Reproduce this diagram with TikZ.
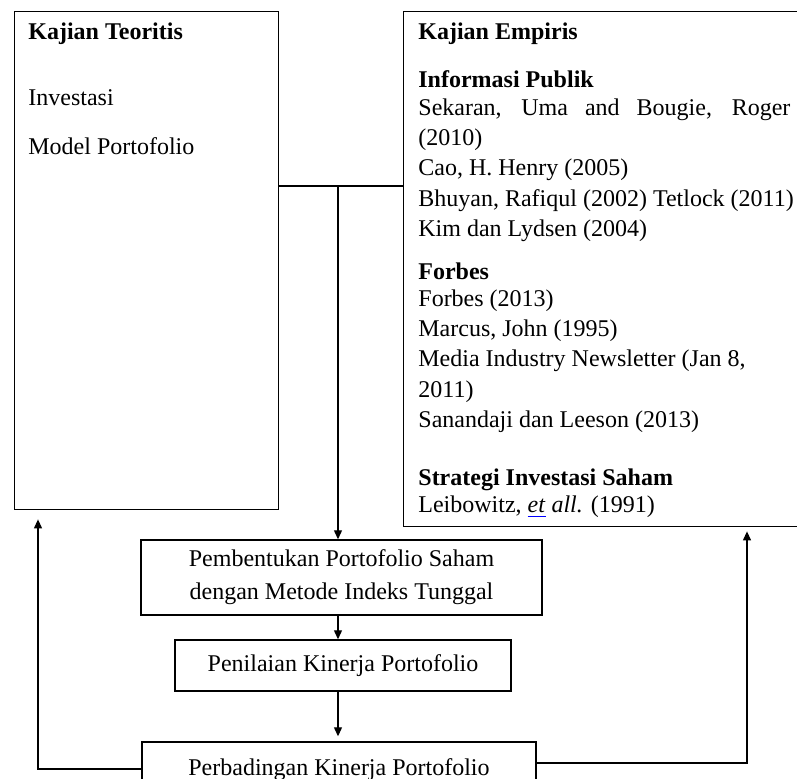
\documentclass[tikz,border=0pt]{standalone}
\usepackage{fontspec}
\setmainfont{Liberation Serif}
\usepackage{tikz}
\usetikzlibrary{arrows.meta,positioning,calc}
\tikzset{
	panel/.style={draw, line width=0.7pt, inner sep=0pt, anchor=north west},
	stepbox/.style={draw, line width=0.7pt, inner sep=0pt, align=center,
		font=\fontsize{12}{16.5}\selectfont},
	entry/.style={anchor=base west, inner sep=0pt, font=\fontsize{12}{14}\selectfont},
	head/.style={entry, font=\fontsize{12}{14}\selectfont\bfseries},
	arrow/.style={-{Triangle[length=4.5pt,width=4pt]}, line width=0.6pt},
	link/.style={line width=0.6pt}
}

\begin{document}
\begin{tikzpicture}[x=0.5pt, y=-0.5pt]
	\useasboundingbox (0,0) rectangle (797,779);
	
	%% -- left panel: theory
	\node[panel, minimum width=132pt, minimum height=249pt] (teoritis) at (14,11) {};
	\node[head]  (kt)  at (28,40)  {Kajian Teoritis};
	\node[entry] (kt1) at (28,106) {Investasi};
	\node[entry] (kt2) at (28,155) {Model Portofolio};
	
	%% -- right panel: empirical studies
	\node[panel, minimum width=198.5pt, minimum height=257.5pt] (empiris) at (403,11) {};
	\node[head]  (ke)   at (418,40)  {Kajian Empiris};
	\node[head]  (ip)   at (418,88)  {Informasi Publik};
	\node[entry] (ip1)  at (418,116) {\makebox[186pt][s]{Sekaran, Uma and Bougie, Roger}};
	\node[entry] (ip2)  at (418,146) {(2010)};
	\node[entry] (ip3)  at (418,176) {Cao, H. Henry (2005)};
	\node[entry] (ip4)  at (418,207) {Bhuyan, Rafiqul (2002) Tetlock (2011)};
	\node[entry] (ip5)  at (418,237) {Kim dan Lydsen (2004)};
	\node[head]  (fb)   at (418,280) {Forbes};
	\node[entry] (fb1)  at (418,307) {Forbes (2013)};
	\node[entry] (fb2)  at (418,337) {Marcus, John (1995)};
	\node[entry] (fb3)  at (418,367) {Media Industry Newsletter (Jan 8,};
	\node[entry] (fb4)  at (418,398) {2011)};
	\node[entry] (fb5)  at (418,428) {Sanandaji dan Leeson (2013)};
	\node[head]  (sis)  at (418,486) {Strategi Investasi Saham};
	\node[entry] (sis1) at (418,513)
	{Leibowitz, {\color{blue}\underline{\color{black}\textit{et}}} \textit{all.} (1991)};
	
	%% -- process steps
	\node[stepbox, minimum width=200.5pt, minimum height=37.5pt] (pembentukan) at (341.5,577.5)
	{Pembentukan Portofolio Saham\\dengan Metode Indeks Tunggal};
	\node[stepbox, minimum width=168pt, minimum height=25.5pt] (penilaian) at (343,665.5)
	{Penilaian Kinerja Portofolio};
	\node[stepbox, minimum width=197pt, minimum height=28pt] (perbadingan) at (339,770)
	{Perbadingan Kinerja Portofolio};
	
	%% -- join of both panels and flow down
	\coordinate (split) at (338,186);
	\draw[link] (teoritis.east |- split) -- (empiris.west |- split);
	\draw[arrow] (split) -- (split |- pembentukan.north);
	\draw[arrow] (split |- pembentukan.south) -- (split |- penilaian.north);
	\draw[arrow, shorten >=2.5pt] (split |- penilaian.south) -- (split |- perbadingan.north);
	
	%% -- feedback to both panels
	\coordinate (backleft) at (38,769);
	\draw[arrow, shorten >=4.5pt] (perbadingan.west |- backleft) -- (backleft) -- (backleft |- teoritis.south);
	\coordinate (backright) at (747,763);
	\draw[arrow, shorten >=2pt] (perbadingan.east |- backright) -- (backright) -- (backright |- empiris.south);
	
\end{tikzpicture}
\end{document}
